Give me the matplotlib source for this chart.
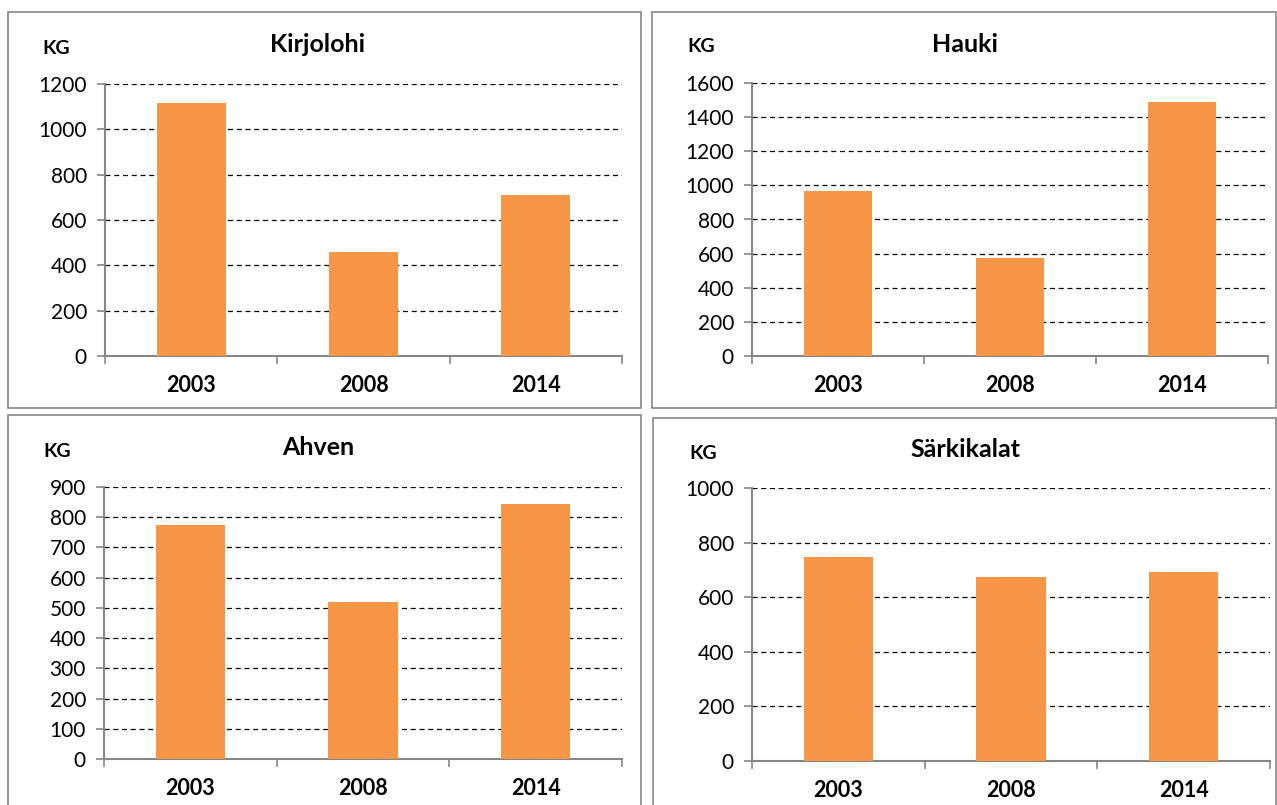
import matplotlib.pyplot as plt
from matplotlib.patches import Rectangle
from matplotlib.ticker import MultipleLocator

plt.rcParams['font.family'] = ['Lato', 'DejaVu Sans']

years = ['2003', '2008', '2014']
kirjolohi = [1115, 458, 710]
hauki = [967, 574, 1489]
ahven = [775, 520, 844]
sarkikalat = [748, 674, 692]

W, H = 1277, 805
BAR = '#F79646'
GREY = '#868686'

fig = plt.figure(figsize=(W / 100, H / 100), dpi=100)
fig.patch.set_facecolor('white')


def px_rect(l, t, r, b):
    return [l / W, 1 - b / H, (r - l) / W, (b - t) / H]


def panel(frame, ax_box, title, title_xy, kg_xy, values, ymax, step):
    # panel border
    l, t, r, b = frame
    fig.patches.append(Rectangle((l / W, 1 - b / H), (r - l) / W, (b - t) / H,
                                 transform=fig.transFigure, fill=False,
                                 edgecolor=GREY, linewidth=1.2))
    ax = fig.add_axes(px_rect(*ax_box))
    x = range(len(years))
    ax.bar(x, values, width=0.4, color=BAR, zorder=3)
    ax.set_xlim(-0.5, 2.5)
    ax.set_ylim(0, ymax)
    ax.yaxis.set_major_locator(MultipleLocator(step))
    ax.grid(axis='y', color='black', linestyle=(0, (4, 3)), linewidth=0.9, zorder=1)
    ax.set_xticks([-0.5, 0.5, 1.5, 2.5])
    ax.set_xticklabels([])
    ax.set_xticks(list(x), minor=True)
    ax.set_xticklabels(years, minor=True, fontsize=15.5, fontweight='bold')
    ax.tick_params(axis='x', which='minor', length=0, pad=14)
    ax.tick_params(axis='x', which='major', length=6, color=GREY, width=1.2)
    ax.tick_params(axis='y', length=6, color=GREY, width=1.2, labelsize=15, pad=7)
    for s in ['top', 'right']:
        ax.spines[s].set_visible(False)
    for s in ['left', 'bottom']:
        ax.spines[s].set_color(GREY)
        ax.spines[s].set_linewidth(1.5)
    fig.text(title_xy[0] / W, 1 - title_xy[1] / H, title, ha='center', va='center',
             fontsize=18, fontweight='bold')
    fig.text(kg_xy[0] / W, 1 - kg_xy[1] / H, 'KG', ha='center', va='center',
             fontsize=14, fontweight='bold')
    return ax


panel((8, 12, 641, 408), (105, 84, 622, 356), 'Kirjolohi', (318, 45), (56, 48),
      kirjolohi, 1200, 200)
panel((652, 12, 1276, 408), (752, 83, 1268, 356), 'Hauki', (965, 45), (701, 47),
      hauki, 1600, 200)
panel((8, 415, 641, 812), (104, 487, 622, 759), 'Ahven', (318, 447), (57, 451),
      ahven, 900, 100)
panel((653, 418, 1276, 812), (752, 488, 1270, 761), 'Särkikalat', (965, 449), (703, 453),
      sarkikalat, 1000, 200)

fig.savefig('out.png', dpi=100)
